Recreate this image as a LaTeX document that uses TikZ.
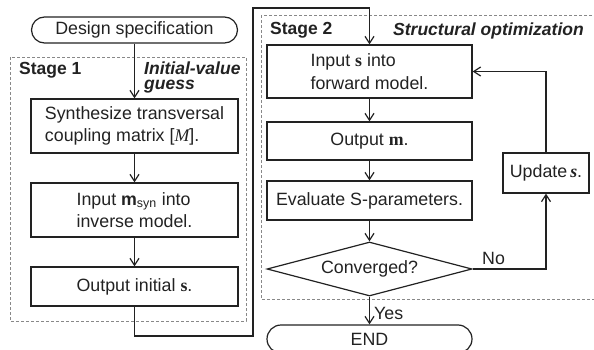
\documentclass[tikz,border=0pt]{standalone}
\usepackage{fontspec}
\setmainfont{Liberation Sans}
\newfontfamily\seriffam{Liberation Serif}
\usetikzlibrary{arrows.meta,shapes.geometric}
\definecolor{lin}{HTML}{222222}
\definecolor{dsh}{HTML}{888888}
\begin{document}
\begin{tikzpicture}[x=1pt,y=-1pt,
  every node/.style={font=\fontsize{17.8}{22.5}\selectfont, text=lin},
  proc/.style={draw=lin, line width=1.2pt, rectangle, inner sep=0pt},
  leftbox/.style={proc, minimum width=207pt},
  rightbox/.style={proc, minimum width=205pt},
  term/.style={draw=lin, line width=1.2pt, rectangle, rounded corners=13pt, inner sep=0pt},
  arr/.style={draw=lin, line width=1.2pt, -{Straight Barb[length=7pt,width=9pt,line width=1.2pt]}},
  frame/.style={draw=dsh, line width=0.8pt, dash pattern=on 3pt off 2pt},
  stagelbl/.style={font=\fontsize{17.5}{15}\selectfont\bfseries, inner sep=0pt, anchor=west},
  stageital/.style={font=\fontsize{17.5}{15}\selectfont\bfseries\itshape, inner sep=0pt, anchor=base west}
]
\useasboundingbox (0,0) rectangle (594,350);
\clip (0,0) rectangle (594,350);

% stage frames
\draw[frame] (10,57) rectangle (246,321);
\draw[frame] (261,15) rectangle (600,299);

% stage labels
\node[stagelbl] (s1) at (19,70) {Stage 1};
\node[stageital] (g1a) at (144,74.5) {Initial-value};
\node[stageital] (g1b) at (144,90) {guess};
\node[stagelbl] (s2) at (270,30) {Stage 2};
\node[stageital] (g2) at (393,36) {Structural optimization};

% stage 1
\node[term, minimum width=206pt, minimum height=26pt] (spec) at (134.5,30) {Design specification};
\node[leftbox, minimum height=54pt, align=left] (syn) at (134.5,126) {Synthesize transversal\\coupling matrix [{\seriffam\itshape M}].};
\node[leftbox, minimum height=54pt, align=left] (inv) at (134.5,210) {Input $\mathbf{m}_{\mathrm{syn}}$ into\\inverse model.};
\node[leftbox, minimum height=39pt] (outs) at (134.5,286.5) {Output initial {\seriffam\bfseries s}.};

% stage 2
\node[rightbox, minimum height=53pt, align=left] (fwd) at (369.5,71.5) {Input {\seriffam\bfseries s} into\\forward model.};
\node[rightbox, minimum height=38pt] (outm) at (369.5,141) {Output {\seriffam\bfseries m}.};
\node[rightbox, minimum height=39pt] (eval) at (369.5,200.5) {Evaluate S-parameters.};
\node[draw=lin, line width=1.2pt, diamond, inner sep=0pt, aspect=3.8, minimum width=205pt, minimum height=54pt] (conv) at (369.5,269) {Converged?};
\node[term, rounded corners=14pt, minimum width=205pt, minimum height=28pt] (end) at (369.5,339) {END};
\node[proc, minimum width=86pt, minimum height=40pt] (upd) at (546,173) {Update{\,}{\seriffam\bfseries\itshape s}.};

% connectors
\coordinate (j1) at (253,336);
\coordinate (j2) at (253,8);
\draw[arr] (spec) -- (syn);
\draw[arr] (syn) -- (inv);
\draw[arr] (inv) -- (outs);
\draw[arr] (outs.south) |- (j1) -- (j2) -| (fwd.north);
\draw[arr] (fwd) -- (outm);
\draw[arr] (outm) -- (eval);
\draw[arr] (eval) -- (conv);
\draw[arr] (conv.south) -- node[right, inner sep=4pt, yshift=-3pt] (yes) {Yes} (end.north);
\draw[arr] (conv.east) -| (upd.south);
\node[anchor=south west, inner sep=0pt] (no) at (482,265) {No};
\draw[arr] (upd.north) |- (fwd.east);
\end{tikzpicture}
\end{document}
